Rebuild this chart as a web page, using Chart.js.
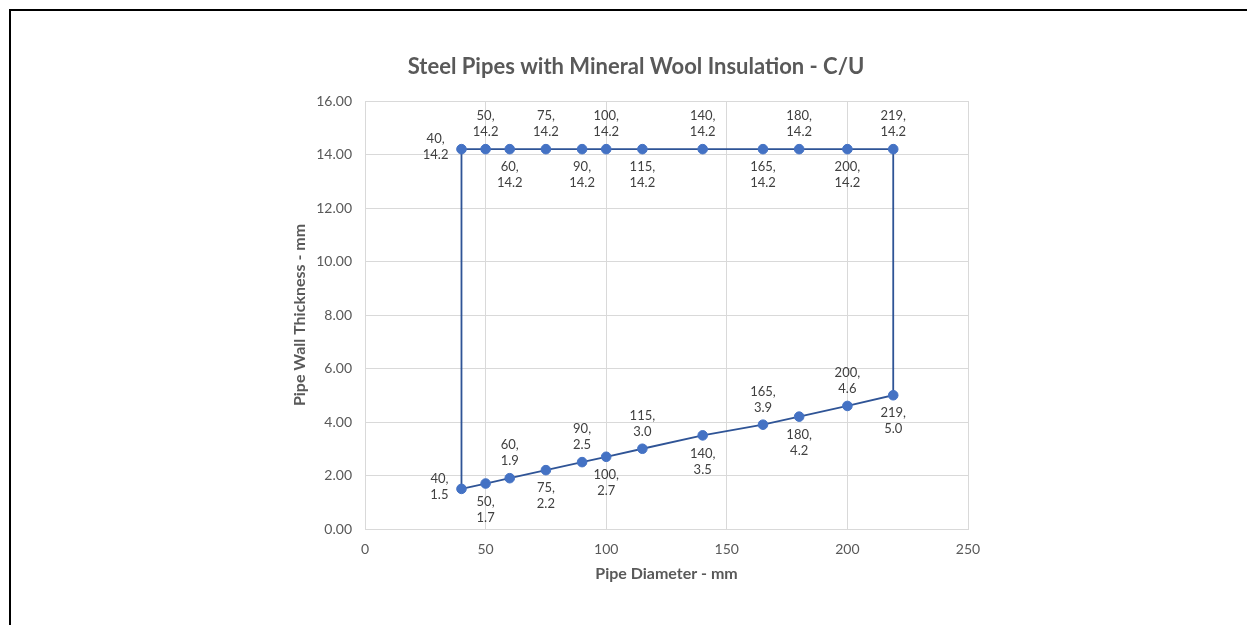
<!DOCTYPE html>
<html>
<head>
<meta charset="utf-8">
<script src="https://cdn.jsdelivr.net/npm/chart.js@4.4.1/dist/chart.umd.min.js"></script>
<style>
    html, body { margin: 0; padding: 0; background: #ffffff; }
    #wrap { position: relative; width: 1247px; height: 625px; overflow: hidden; }
    #chart { position: absolute; left: 0; top: 0; }
    #frame {
        position: absolute; left: 9px; top: 9px; width: 1300px; height: 700px;
        border-top: 2px solid #000000; border-left: 2px solid #000000;
        pointer-events: none;
    }
</style>
</head>
<body>
<div id="wrap">
    <canvas id="chart" width="1247" height="625"></canvas>
    <div id="frame"></div>
</div>
<script>
const pipeDiameters = [40, 50, 60, 75, 90, 100, 115, 140, 165, 180, 200, 219];
const maxWallThickness = [14.2, 14.2, 14.2, 14.2, 14.2, 14.2, 14.2, 14.2, 14.2, 14.2, 14.2, 14.2];
const minWallThickness = [1.5, 1.7, 1.9, 2.2, 2.5, 2.7, 3.0, 3.5, 3.9, 4.2, 4.6, 5.0];

const chartTitle = 'Steel Pipes with Mineral Wool Insulation - C/U';
const xAxisTitle = 'Pipe Diameter - mm';
const yAxisTitle = 'Pipe Wall Thickness - mm';

const FONT = 'Lato, "Open Sans", sans-serif';
const GREY_TEXT = '#595959';

// Closed outline: lower row left to right, upper row right to left, back to start
const lowerPoints = pipeDiameters.map((d, i) => ({ x: d, y: minWallThickness[i] }));
const upperPoints = pipeDiameters.map((d, i) => ({ x: d, y: maxWallThickness[i] }));
const outline = [...lowerPoints, ...upperPoints.slice().reverse(), lowerPoints[0]];
const pointRadii = outline.map((p, i) => (i === outline.length - 1 ? 0 : 4.8));

const titlePlugin = {
    id: 'centeredTitle',
    afterDraw: (chart) => {
        const ctx = chart.ctx;
        ctx.save();
        ctx.font = `bold 22px ${FONT}`;
        ctx.fillStyle = GREY_TEXT;
        ctx.textAlign = 'center';
        ctx.textBaseline = 'middle';
        ctx.fillText(chartTitle, 636, 67);
        ctx.restore();
    }
};

const drawLabel = (ctx, lines, px, py, position) => {
    const lineHeight = 16;
    const width = Math.max(...lines.map(line => ctx.measureText(line).width));
    let cx = px;
    let firstY = py;
    if (position === 'left') {
        cx = px - 13 - width / 2;
        firstY = py - 10;
    } else if (position === 'above') {
        firstY = py - 33;
    } else {
        firstY = py + 18;
    }
    lines.forEach((line, k) => {
        ctx.fillText(line, cx, firstY + k * lineHeight);
    });
};

const pointLabelsPlugin = {
    id: 'pointLabels',
    afterDatasetsDraw: (chart) => {
        const ctx = chart.ctx;
        const xScale = chart.scales.x;
        const yScale = chart.scales.y;
        ctx.save();
        ctx.font = `13px ${FONT}`;
        ctx.fillStyle = '#404040';
        ctx.textAlign = 'center';
        ctx.textBaseline = 'middle';

        pipeDiameters.forEach((d, i) => {
            const px = xScale.getPixelForValue(d);

            const topY = yScale.getPixelForValue(maxWallThickness[i]);
            const topPos = i === 0 ? 'left' : (i % 2 === 1 ? 'above' : 'below');
            drawLabel(ctx, [`${d},`, maxWallThickness[i].toFixed(1)], px, topY, topPos);

            const lowY = yScale.getPixelForValue(minWallThickness[i]);
            const lowPos = i === 0 ? 'left' : (i % 2 === 1 ? 'below' : 'above');
            drawLabel(ctx, [`${d},`, minWallThickness[i].toFixed(1)], px, lowY, lowPos);
        });
        ctx.restore();
    }
};

const context = document.getElementById('chart').getContext('2d');

const pipesChart = new Chart(context, {
    type: 'scatter',
    data: {
        datasets: [
            {
                label: 'Wall thickness range',
                data: outline,
                showLine: true,
                borderColor: '#2f5496',
                borderWidth: 1.8,
                pointRadius: pointRadii,
                pointHoverRadius: pointRadii,
                pointBackgroundColor: '#4472c4',
                pointBorderColor: '#4472c4',
                pointBorderWidth: 1,
                tension: 0
            }
        ]
    },
    options: {
        responsive: false,
        animation: false,
        layout: {
            padding: { left: 290, right: 279, top: 101, bottom: 35 }
        },
        scales: {
            x: {
                type: 'linear',
                min: 0,
                max: 250,
                afterFit: (scale) => { scale.height = 61; },
                ticks: {
                    stepSize: 50,
                    color: GREY_TEXT,
                    padding: 12,
                    font: { family: FONT, size: 14 }
                },
                grid: { color: '#d9d9d9', drawTicks: false },
                border: { color: '#d9d9d9' },
                title: {
                    display: true,
                    text: xAxisTitle,
                    color: GREY_TEXT,
                    padding: { top: 0, bottom: 7 },
                    font: { family: FONT, size: 16, weight: 'bold' }
                }
            },
            y: {
                type: 'linear',
                min: 0,
                max: 16,
                afterFit: (scale) => { scale.width = 75; },
                ticks: {
                    stepSize: 2,
                    color: GREY_TEXT,
                    padding: 13,
                    font: { family: FONT, size: 14 },
                    callback: (value) => Number(value).toFixed(2)
                },
                grid: { color: '#d9d9d9', drawTicks: false },
                border: { color: '#d9d9d9' },
                title: {
                    display: true,
                    text: yAxisTitle,
                    color: GREY_TEXT,
                    padding: { top: 0, bottom: 0 },
                    font: { family: FONT, size: 16, weight: 'bold' }
                }
            }
        },
        plugins: {
            legend: { display: false },
            title: { display: false },
            tooltip: { enabled: false }
        }
    },
    plugins: [titlePlugin, pointLabelsPlugin]
});
</script>
</body>
</html>
